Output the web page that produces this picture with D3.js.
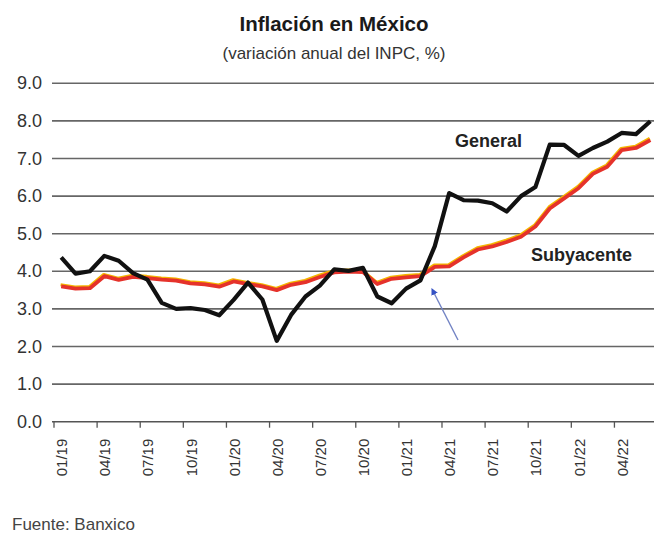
<!DOCTYPE html>
<html><head><meta charset="utf-8">
<script src="https://cdn.jsdelivr.net/npm/d3@7"></script>
<style>html,body{margin:0;padding:0;background:#fff;} svg{display:block;}</style>
</head><body>
<svg id="chart" width="654" height="536"></svg>
<script>
// ---- data ----
const months = [
  "01/19","02/19","03/19","04/19","05/19","06/19","07/19","08/19","09/19","10/19","11/19","12/19",
  "01/20","02/20","03/20","04/20","05/20","06/20","07/20","08/20","09/20","10/20","11/20","12/20",
  "01/21","02/21","03/21","04/21","05/21","06/21","07/21","08/21","09/21","10/21","11/21","12/21",
  "01/22","02/22","03/22","04/22","05/22","06/22"];
const general = [
  4.37,3.94,4.00,4.41,4.28,3.95,3.78,3.16,3.00,3.02,2.97,2.83,
  3.24,3.70,3.25,2.15,2.84,3.33,3.62,4.05,4.01,4.09,3.33,3.15,
  3.54,3.76,4.67,6.08,5.89,5.88,5.81,5.59,6.00,6.24,7.37,7.36,
  7.07,7.28,7.45,7.68,7.65,7.99];
const core = [
  3.60,3.54,3.55,3.87,3.77,3.85,3.82,3.78,3.75,3.68,3.65,3.59,
  3.73,3.66,3.60,3.50,3.64,3.71,3.85,3.97,3.99,3.98,3.66,3.80,
  3.84,3.87,4.12,4.13,4.37,4.58,4.66,4.78,4.92,5.19,5.67,5.94,
  6.21,6.59,6.78,7.22,7.28,7.49];
const yTicks = [0,1,2,3,4,5,6,7,8,9];
const tickMonths = ["01/19","04/19","07/19","10/19","01/20","04/20","07/20","10/20","01/21","04/21","07/21","10/21","01/22","04/22"];
const title = "Inflación en México";
const subtitle = "(variación anual del INPC, %)";
const source = "Fuente: Banxico";

// ---- layout ----
const FONT = "'Liberation Sans Narrow','Arial Narrow','Liberation Sans',sans-serif";
const svg = d3.select("#chart");
const left = 54, monthW = 14.37;
const x = d3.scaleBand().domain(months).range([left, left + months.length*monthW]).paddingInner(0).paddingOuter(0);
const y = d3.scaleLinear().domain([0,9]).range([421.7, 83.3]);
const cx = m => x(m) + x.bandwidth()/2;

// title
svg.append("text").attr("x",334).attr("y",31).attr("text-anchor","middle")
  .attr("font-family",FONT).attr("font-weight","bold").attr("font-size",20.5).attr("fill","#1a1a1a").text(title);
svg.append("text").attr("x",334).attr("y",59).attr("text-anchor","middle")
  .attr("font-family",FONT).attr("font-size",17).attr("fill","#333").text(subtitle);

// gridlines
svg.append("g").selectAll("line").data(yTicks.filter(d=>d>0)).join("line")
  .attr("x1",52).attr("x2",654).attr("y1",d=>y(d)).attr("y2",d=>y(d))
  .attr("stroke","#666").attr("stroke-width",1.6);

// y labels
svg.append("g").selectAll("text").data(yTicks).join("text")
  .attr("x",42).attr("y",d=>y(d)+6).attr("text-anchor","end")
  .attr("font-family",FONT).attr("font-size",18).attr("fill","#333")
  .text(d=>d.toFixed(1));

// x axis
const xAxis = d3.axisBottom(x).tickValues(tickMonths).tickSize(6).tickFormat(d=>d);
const gx = svg.append("g").attr("transform",`translate(0,${y(0)})`).call(xAxis);
gx.select(".domain").attr("d",`M52,0H654`).attr("stroke","#555").attr("stroke-width",1.6);
gx.selectAll(".tick").attr("transform",d=>`translate(${x(d)},0)`);
gx.selectAll(".tick line").attr("stroke","#555").attr("stroke-width",1.3);
gx.selectAll(".tick text")
  .attr("font-family",FONT).attr("font-size",15).attr("fill","#333")
  .attr("text-anchor","end").attr("dy",null).attr("y",0)
  .attr("transform",`translate(${x.bandwidth()/2+6},17) rotate(-90)`);

// lines
const line = d3.line().x((d,i)=>cx(months[i])).y(d=>y(d));
svg.append("path").datum(core).attr("d",line).attr("fill","none")
  .attr("stroke","#f4b400").attr("stroke-width",3.2).attr("stroke-linejoin","round")
  .attr("transform","translate(-0.6,-1.6)");
svg.append("path").datum(core).attr("d",line).attr("fill","none")
  .attr("stroke","#e5322b").attr("stroke-width",3.8).attr("stroke-linejoin","round");
svg.append("path").datum(general).attr("d",line).attr("fill","none")
  .attr("stroke","#111").attr("stroke-width",4.2).attr("stroke-linejoin","round");

// series labels
svg.append("text").attr("x",455).attr("y",147).attr("font-family",FONT).attr("font-weight","bold")
  .attr("font-size",18).attr("fill","#222").text("General");
svg.append("text").attr("x",531).attr("y",261).attr("font-family",FONT).attr("font-weight","bold")
  .attr("font-size",18).attr("fill","#222").text("Subyacente");

// arrow annotation
const defs = svg.append("defs");
defs.append("marker").attr("id","ah").attr("viewBox","0 0 10 10").attr("refX",2).attr("refY",5)
  .attr("markerWidth",5).attr("markerHeight",5).attr("orient","auto-start-reverse")
  .append("path").attr("d","M0,0L10,5L0,10z").attr("fill","#3552c4");
svg.append("line").attr("x1",458).attr("y1",340).attr("x2",434).attr("y2",293)
  .attr("stroke","#7283c4").attr("stroke-width",1.4).attr("marker-end","url(#ah)");

// source
svg.append("text").attr("x",12).attr("y",530).attr("font-family",FONT)
  .attr("font-size",17).attr("fill","#444").text(source);
</script>
</body></html>
